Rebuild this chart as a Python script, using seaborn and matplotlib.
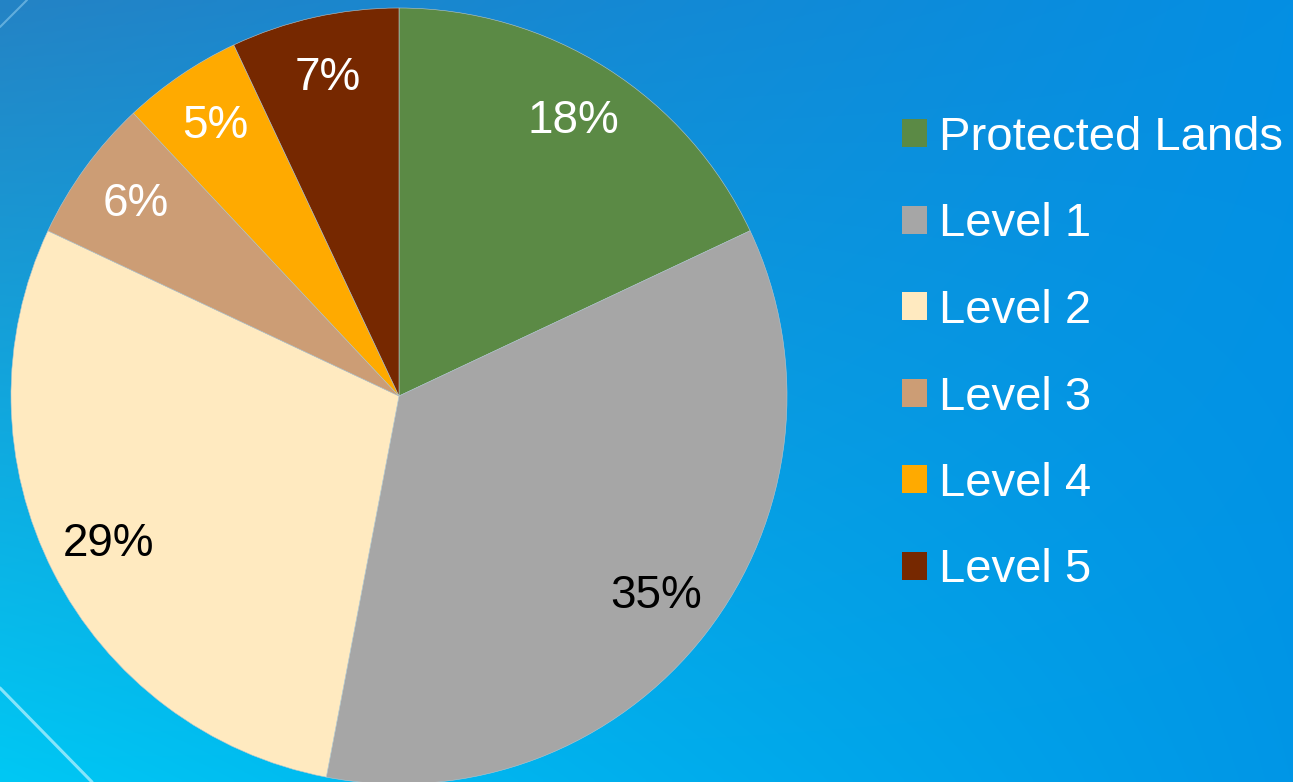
import numpy as np
import matplotlib
matplotlib.use("Agg")
import matplotlib.pyplot as plt
import seaborn as sns
from matplotlib.patches import Patch
from matplotlib.lines import Line2D

categories = ["Protected Lands", "Level 1", "Level 2", "Level 3", "Level 4", "Level 5"]
values = [18, 35, 29, 6, 5, 7]
colors = ["#5B8A45", "#A6A6A6", "#FFEAC0", "#CC9D75", "#FFAA00", "#762800"]
label_colors = ["white", "black", "black", "white", "white", "white"]

sns.set_theme(style="white")
plt.rcParams["font.family"] = ["Liberation Sans", "DejaVu Sans"]

W, H = 1293, 782
fig = plt.figure(figsize=(W / 100, H / 100), dpi=100)

# background gradient
bg = fig.add_axes([0, 0, 1, 1])
bg.set_axis_off()
tl = np.array([0x24, 0x83, 0xC5]) / 255
tr = np.array([0x04, 0x8F, 0xE3]) / 255
bl = np.array([0x00, 0xC8, 0xF4]) / 255
br = np.array([0x00, 0x96, 0xE6]) / 255
ny, nx = 200, 330
yy, xx = np.mgrid[0:1:ny * 1j, 0:1:nx * 1j]
img = ((1 - xx)[..., None] * (1 - yy)[..., None] * tl + xx[..., None] * (1 - yy)[..., None] * tr
       + (1 - xx)[..., None] * yy[..., None] * bl + xx[..., None] * yy[..., None] * br)
bg.imshow(img, extent=[0, W, H, 0], aspect="auto", interpolation="bilinear")
bg.set_xlim(0, W)
bg.set_ylim(H, 0)
# faint light streaks
bg.add_line(Line2D([0, 27], [27, 0], color="#9fd8f5", lw=1.5, alpha=0.5))
bg.add_line(Line2D([0, 92], [688, 782], color="#bff4ff", lw=2.2, alpha=0.7))

# pie
cx, cy, r = 399, 396, 388
ax = fig.add_axes([(cx - r) / W, (H - cy - r) / H, 2 * r / W, 2 * r / H])
ax.set_axis_off()
wedges, texts, autotexts = ax.pie(
    values, colors=colors, startangle=90, counterclock=False,
    autopct=lambda p: f"{p:.0f}%", pctdistance=0.84,
    wedgeprops=dict(edgecolor="#b9c6cc", linewidth=0.4),
    textprops=dict(fontsize=33), radius=1.0,
)
for t, c in zip(autotexts, label_colors):
    t.set_color(c)
for w in wedges:
    w.set_clip_on(False)
ax.set_xlim(-1, 1)
ax.set_ylim(-1, 1)

handles = [Patch(facecolor=c, edgecolor="none") for c in colors]
leg = fig.legend(
    handles, categories, loc="upper left",
    bbox_to_anchor=(902 / W, 1 - 116 / H), frameon=False,
    fontsize=34, handlelength=0.53, handleheight=0.53, handletextpad=0.25,
    labelspacing=0.90, borderaxespad=0, borderpad=0,
)
for t in leg.get_texts():
    t.set_color("white")

fig.savefig("out.png", dpi=100)
